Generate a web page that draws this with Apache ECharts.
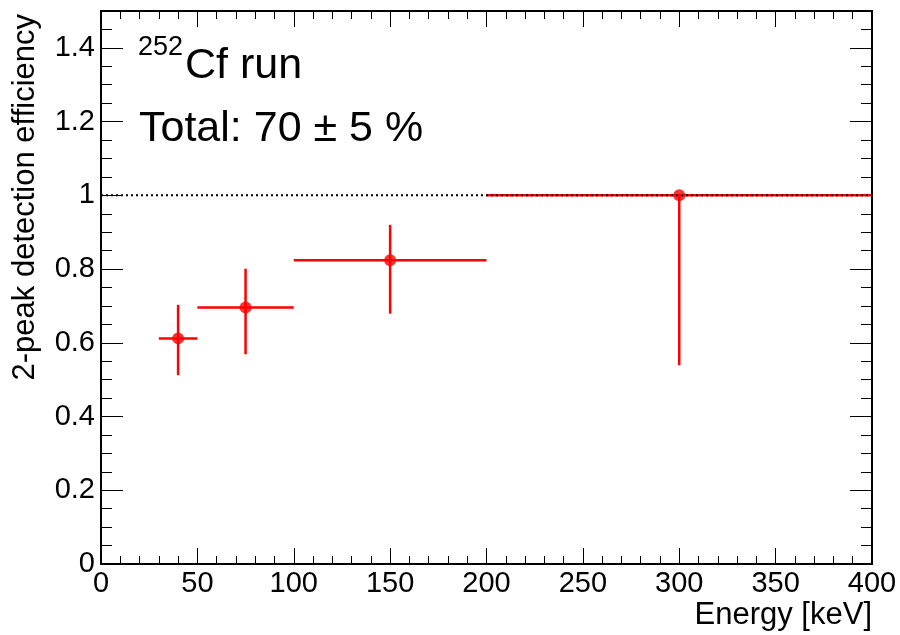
<!DOCTYPE html>
<html>
<head>
<meta charset="utf-8">
<title>2-peak detection efficiency</title>
<script src="https://cdn.jsdelivr.net/npm/echarts@6/dist/echarts.min.js"></script>
<style>
	html, body { margin: 0; padding: 0; background: #fff; }
	#chart { width: 900px; height: 635px; }
</style>
</head>
<body>
<div id="chart"></div>
<script>
	// 数据
	var energy = [40, 75, 150, 300];
	var energyLow = [30, 50, 100, 200];
	var energyHigh = [50, 100, 200, 400];
	var efficiency = [0.612, 0.696, 0.824, 1.0];
	var effLow = [0.512, 0.569, 0.679, 0.539];
	var effHigh = [0.703, 0.801, 0.920, 1.0];
	var unity = 1;
	var xRange = [0, 400];

	var font = 'Liberation Sans, Arial, Helvetica, sans-serif';

	var points = energy.map(function (e, i) { return [e, efficiency[i]]; });
	var bars = energy.map(function (e, i) {
		return [e, efficiency[i], energyLow[i], energyHigh[i], effLow[i], effHigh[i]];
	});

	function xAxis(pos, withLabel) {
		return {
			type: 'value', position: pos, min: xRange[0], max: xRange[1], interval: 50,
			axisLine: { onZero: false, lineStyle: { color: '#000', width: 2 } },
			axisTick: { inside: true, length: 16, lineStyle: { color: '#000', width: 1 } },
			minorTick: { show: true, splitNumber: 5, length: 8, lineStyle: { color: '#000', width: 1 } },
			splitLine: { show: false },
			axisLabel: { show: withLabel, color: '#000', fontSize: 29, fontFamily: font, margin: 5 },
			name: withLabel ? 'Energy [keV]' : '',
			nameLocation: 'end',
			nameGap: 0,
			nameTextStyle: {
				color: '#000', fontSize: 31, fontFamily: font,
				align: 'right', verticalAlign: 'top', padding: [36, 0, 0, 0]
			}
		};
	}

	function yAxis(pos, minor, withLabel) {
		return {
			type: 'value', position: pos, min: 0, max: 1.5, interval: minor ? 0.05 : 0.2,
			axisLine: { show: !minor, onZero: false, lineStyle: { color: '#000', width: 2 } },
			axisTick: { inside: true, length: minor ? 11 : 22, lineStyle: { color: '#000', width: 1 } },
			splitLine: { show: false },
			axisLabel: {
				show: !!withLabel, showMaxLabel: false, color: '#000',
				fontSize: 29, fontFamily: font, margin: 6
			},
			name: withLabel ? '2-peak detection efficiency' : '',
			nameLocation: 'end',
			nameGap: -3,
			nameRotate: 90,
			nameTextStyle: {
				color: '#000', fontSize: 31, fontFamily: font,
				align: 'right', verticalAlign: 'bottom', padding: [0, 0, 60, 0]
			}
		};
	}

	var chart = echarts.init(document.getElementById('chart'), null, { renderer: 'canvas' });

	var option = {
		animation: false,
		backgroundColor: '#fff',
		grid: { left: 101, right: 28, top: 11, bottom: 71 },
		xAxis: [xAxis('bottom', true), xAxis('top', false)],
		yAxis: [yAxis('left', false, true), yAxis('left', true), yAxis('right', false), yAxis('right', true)],
		graphic: [
			{ type: 'text', left: 138, top: 34, style: { text: '252', font: '27px ' + font, fill: '#000' } },
			{ type: 'text', left: 185, top: 45, style: { text: 'Cf run', font: '43px ' + font, fill: '#000' } },
			{ type: 'text', left: 139, top: 108, style: { text: 'Total: 70 \u00b1 5 %', font: '43px ' + font, fill: '#000' } }
		],
		series: [
			{
				type: 'custom',
				xAxisIndex: 0, yAxisIndex: 0,
				data: bars,
				encode: { x: 0, y: 1 },
				z: 2,
				renderItem: function (params, api) {
					var y = api.value(1), x = api.value(0);
					var l = api.coord([api.value(2), y]);
					var r = api.coord([api.value(3), y]);
					var d = api.coord([x, api.value(4)]);
					var u = api.coord([x, api.value(5)]);
					var st = { stroke: '#ff0000', lineWidth: 2.5 };
					return {
						type: 'group',
						children: [
							{ type: 'line', shape: { x1: l[0], y1: l[1], x2: r[0], y2: r[1] }, style: st },
							{ type: 'line', shape: { x1: d[0], y1: d[1], x2: u[0], y2: u[1] }, style: st }
						]
					};
				}
			},
			{
				type: 'scatter',
				xAxisIndex: 0, yAxisIndex: 0,
				data: points,
				symbol: 'circle',
				symbolSize: 12,
				itemStyle: { color: '#ff0000' },
				z: 3
			},
			{
				type: 'line',
				xAxisIndex: 0, yAxisIndex: 0,
				data: [[xRange[0], unity], [xRange[1], unity]],
				symbol: 'none',
				lineStyle: { color: '#000', width: 2, type: [2, 3] },
				z: 4
			}
		]
	};

	chart.setOption(option);
</script>
</body>
</html>
